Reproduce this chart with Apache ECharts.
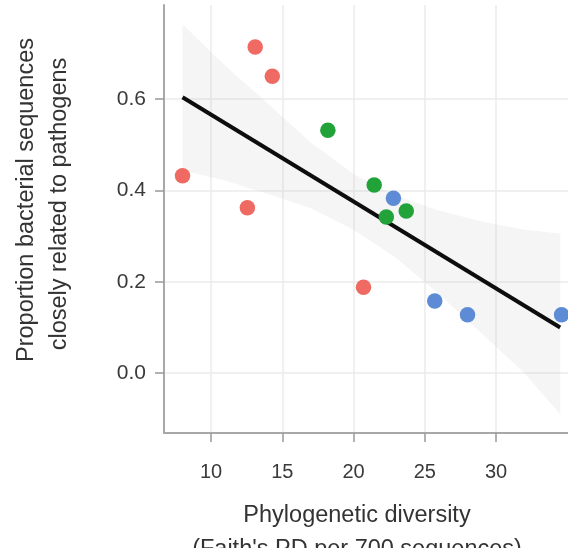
<!DOCTYPE html>
<html>
<head>
<meta charset="utf-8">
<script src="https://cdn.jsdelivr.net/npm/echarts@6/dist/echarts.min.js"></script>
<style>
  html, body { margin: 0; padding: 0; background: #fff; }
  #chart { width: 568px; height: 548px; }
</style>
</head>
<body>
<div id="chart"></div>
<script>
// tick positions
var xTicks = [10, 15, 20, 25, 30];
var yTicks = [0, 0.2, 0.4, 0.6];

// samples, by group colour
var redX = [13.1, 14.3, 8.0, 12.55, 20.7];
var redY = [0.714, 0.650, 0.432, 0.362, 0.188];
var greenX = [18.2, 21.45, 22.3, 23.7];
var greenY = [0.532, 0.412, 0.342, 0.355];
var blueX = [22.8, 25.7, 28.0, 34.6];
var blueY = [0.383, 0.158, 0.128, 0.128];

// fitted line (ends)
var fitX = [8.0, 34.5];
var fitY = [0.604, 0.100];

// confidence band, read at a few x positions
var bandX = [8, 11, 14, 17, 20, 23, 26, 29, 32, 34.5];
var bandUpper = [0.764, 0.673, 0.590, 0.505, 0.436, 0.388, 0.356, 0.332, 0.314, 0.306];
var bandLower = [0.444, 0.421, 0.392, 0.361, 0.314, 0.252, 0.173, 0.087, 0.000, -0.090];

var font = 'Liberation Sans, Arial, sans-serif';

function zip(xs, ys) {
    var out = [];
    for (var i = 0; i < xs.length; i++) out.push([xs[i], ys[i]]);
    return out;
}

var chart = echarts.init(document.getElementById('chart'));

chart.setOption({
    animation: false,
    grid: { left: 164, right: 0, top: 5, bottom: 115 },
    xAxis: {
        type: 'value',
        min: 6.7,
        max: 35.05,
        axisLine: { show: true, onZero: false, lineStyle: { color: '#a8a8a8', width: 2 } },
        axisTick: { show: true, length: 9, customValues: xTicks, lineStyle: { color: '#999', width: 1.5 } },
        axisLabel: { customValues: xTicks, fontSize: 20, color: '#3a3a3a', margin: 29, fontFamily: font },
        splitLine: { show: true, lineStyle: { color: '#ebebeb', width: 1.5 } }
    },
    yAxis: {
        type: 'value',
        min: -0.131,
        max: 0.806,
        axisLine: { show: true, onZero: false, lineStyle: { color: '#a8a8a8', width: 2 } },
        axisTick: { show: true, length: 9, customValues: yTicks, lineStyle: { color: '#999', width: 1.5 } },
        axisLabel: {
            customValues: yTicks, fontSize: 21, color: '#3a3a3a', margin: 18, fontFamily: font,
            formatter: function (v) { return v.toFixed(1); }
        },
        splitLine: { show: true, lineStyle: { color: '#ebebeb', width: 1.5 } }
    },
    graphic: [
        {
            type: 'text', x: 27, y: 200, rotation: Math.PI / 2,
            style: { text: 'Proportion bacterial sequences', fontSize: 23.5, fontFamily: font, fill: '#333', align: 'center', verticalAlign: 'middle' }
        },
        {
            type: 'text', x: 60, y: 204, rotation: Math.PI / 2,
            style: { text: 'closely related to pathogens', fontSize: 23.5, fontFamily: font, fill: '#333', align: 'center', verticalAlign: 'middle' }
        },
        {
            type: 'text', x: 357, y: 516,
            style: { text: 'Phylogenetic diversity', fontSize: 23.5, fontFamily: font, fill: '#333', align: 'center', verticalAlign: 'middle' }
        },
        {
            type: 'text', x: 357, y: 550,
            style: { text: "(Faith's PD per 700 sequences)", fontSize: 23.5, fontFamily: font, fill: '#333', align: 'center', verticalAlign: 'middle' }
        }
    ],
    series: [
        {
            // confidence ribbon
            type: 'custom',
            data: [0],
            z: 1,
            renderItem: function (params, api) {
                var pts = [];
                for (var i = 0; i < bandX.length; i++) pts.push(api.coord([bandX[i], bandUpper[i]]));
                for (var j = bandX.length - 1; j >= 0; j--) pts.push(api.coord([bandX[j], bandLower[j]]));
                return {
                    type: 'polygon',
                    shape: { points: pts },
                    style: { fill: 'rgba(190,190,190,0.15)' }
                };
            }
        },
        {
            type: 'line',
            data: zip(fitX, fitY),
            symbol: 'none',
            z: 3,
            lineStyle: { color: '#0d0d0d', width: 4 }
        },
        {
            type: 'scatter', data: zip(redX, redY), symbolSize: 15.5, z: 4,
            itemStyle: { color: '#ee6a63', opacity: 1 }
        },
        {
            type: 'scatter', data: zip(greenX, greenY), symbolSize: 15.5, z: 4,
            itemStyle: { color: '#22a33a', opacity: 1 }
        },
        {
            type: 'scatter', data: zip(blueX, blueY), symbolSize: 15.5, z: 4,
            itemStyle: { color: '#5d8bd5', opacity: 1 }
        }
    ]
});
</script>
</body>
</html>
